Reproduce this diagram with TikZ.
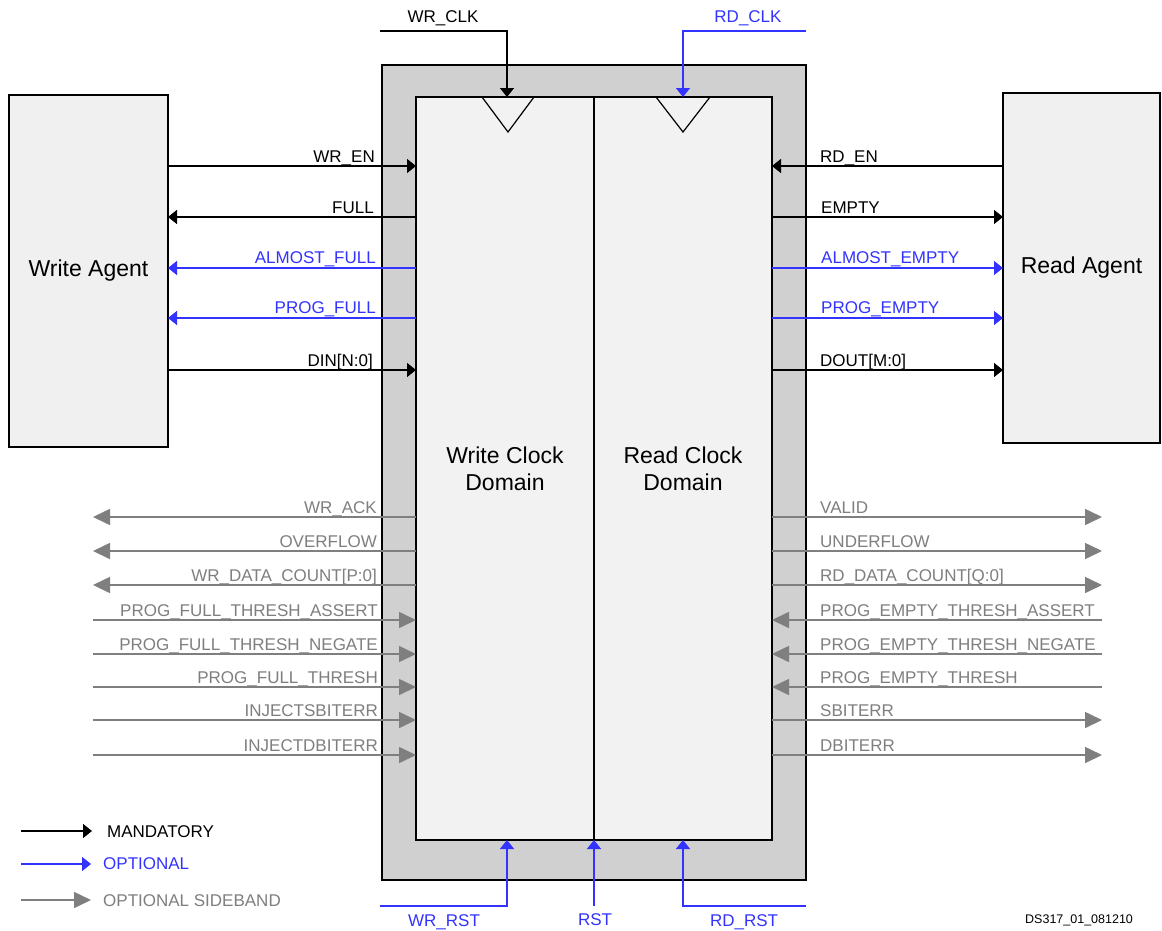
\documentclass[tikz,border=0pt]{standalone}
\usepackage{fontspec}
\setmainfont{Liberation Sans}
\usetikzlibrary{arrows.meta}
\definecolor{optblue}{HTML}{3333FF}
\definecolor{sidegray}{HTML}{7F7F7F}
\definecolor{outerfill}{HTML}{D0D0D0}
\definecolor{innerfill}{HTML}{F2F2F2}
\definecolor{agentfill}{HTML}{F0F0F0}
\begin{document}
\begin{tikzpicture}[x=1pt,y=-1pt,
 box/.style={draw=black, line width=2pt, inner sep=0pt, outer sep=0pt},
 mand/.style={draw=black, line width=1.4pt, -{Triangle[length=9pt,width=14pt]}},
 opt/.style={draw=optblue, line width=1.4pt, -{Triangle[length=9pt,width=14pt]}},
 side/.style={draw=sidegray, line width=1.6pt, -{Triangle[length=17pt,width=16pt]}},
 sig/.style={font=\fontsize{17}{20}\selectfont, inner sep=0pt},
 big/.style={font=\fontsize{23}{27}\selectfont, align=center},
 lft/.style={sig, anchor=base east},
 rgt/.style={sig, anchor=base west},
]
\useasboundingbox (0,0) rectangle (1162,930);
\fill[white] (0,0) rectangle (1162,930);

% boxes
\node[box, fill=outerfill, minimum width=424, minimum height=815, anchor=north west] (outer) at (382,65) {};
\node[box, fill=innerfill, minimum width=178, minimum height=743, anchor=north west, big] (wcd) at (416,97) {Write Clock\\Domain};
\node[box, fill=innerfill, minimum width=178, minimum height=743, anchor=north west, big] (rcd) at (594,97) {Read Clock\\Domain};
\node[box, fill=agentfill, minimum width=159, minimum height=352, anchor=north west, big] (wa) at (9,95) {Write Agent};
\node[box, fill=agentfill, minimum width=157, minimum height=350, anchor=north west, big] (ra) at (1003,93) {Read Agent};

% clock triangles
\draw[line width=1.2pt] (482,97) -- (508,132) -- (534,97);
\draw[line width=1.2pt] (656,97) -- (683,132) -- (710,97);

% clocks
\coordinate (wclk) at (380,31);
\coordinate (rclk) at (806,31);
\draw[mand] (wclk) -| (wcd.north -| 507,0);
\draw[opt] (rclk) -| (rcd.north -| 683,0);
\node[sig, anchor=base] at (443,22) {WR\_CLK};
\node[sig, anchor=base, text=optblue] at (748,22) {RD\_CLK};

% resets
\coordinate (wrst) at (380,906);
\coordinate (rst) at (594,906);
\coordinate (rrst) at (806,906);
\draw[opt] (wrst) -| (wcd.south -| 507,0);
\draw[opt] (rst) -- (wcd.south east);
\draw[opt] (rrst) -| (rcd.south -| 683,0);
\node[sig, anchor=base, text=optblue] at (444,926) {WR\_RST};
\node[sig, anchor=base, text=optblue] at (595,925) {RST};
\node[sig, anchor=base, text=optblue] at (744,926) {RD\_RST};

% write side main signals
\draw[mand] (wa.east |- 0,166) -- (wcd.west |- 0,166);
\draw[mand] (wcd.west |- 0,217) -- (wa.east |- 0,217);
\draw[opt] (wcd.west |- 0,268) -- (wa.east |- 0,268);
\draw[opt] (wcd.west |- 0,318) -- (wa.east |- 0,318);
\draw[mand] (wa.east |- 0,370) -- (wcd.west |- 0,370);
\node[lft] at (375,162) {WR\_EN};
\node[lft] at (374,213) {FULL};
\node[lft, text=optblue] at (376,263) {ALMOST\_FULL};
\node[lft, text=optblue] at (376,313) {PROG\_FULL};
\node[lft] at (373,366) {DIN[N:0]};

% read side main signals
\draw[mand] (ra.west |- 0,166) -- (rcd.east |- 0,166);
\draw[mand] (rcd.east |- 0,217) -- (ra.west |- 0,217);
\draw[opt] (rcd.east |- 0,268) -- (ra.west |- 0,268);
\draw[opt] (rcd.east |- 0,318) -- (ra.west |- 0,318);
\draw[mand] (rcd.east |- 0,370) -- (ra.west |- 0,370);
\node[rgt] at (820,162) {RD\_EN};
\node[rgt] at (821,213) {EMPTY};
\node[rgt, text=optblue] at (821,263) {ALMOST\_EMPTY};
\node[rgt, text=optblue] at (821,313) {PROG\_EMPTY};
\node[rgt] at (820,366) {DOUT[M:0]};

% sideband left
\foreach \y/\t in {517/WR\_ACK, 551/OVERFLOW, 585/WR\_DATA\_COUNT[P:0]} {
  \coordinate (L\y) at (93,\y);
  \draw[side] (wcd.west |- L\y) -- (L\y);
  \node[lft, text=sidegray] at (377,\y-4) {\t};
}
\foreach \y/\t in {620/PROG\_FULL\_THRESH\_ASSERT, 654/PROG\_FULL\_THRESH\_NEGATE, 687/PROG\_FULL\_THRESH, 720/INJECTSBITERR, 755/INJECTDBITERR} {
  \coordinate (L\y) at (93,\y);
  \draw[side] (L\y) -- (wcd.west |- L\y);
  \node[lft, text=sidegray] at (378,\y-4) {\t};
}
% sideband right
\foreach \y/\t in {517/VALID, 551/UNDERFLOW, 585/RD\_DATA\_COUNT[Q:0], 720/SBITERR, 755/DBITERR} {
  \coordinate (R\y) at (1102,\y);
  \draw[side] (rcd.east |- R\y) -- (R\y);
  \node[rgt, text=sidegray] at (820,\y-4) {\t};
}
\foreach \y/\t in {620/PROG\_EMPTY\_THRESH\_ASSERT, 654/PROG\_EMPTY\_THRESH\_NEGATE, 687/PROG\_EMPTY\_THRESH} {
  \coordinate (R\y) at (1102,\y);
  \draw[side] (R\y) -- (rcd.east |- R\y);
  \node[rgt, text=sidegray] at (820,\y-4) {\t};
}

% legend
\coordinate (m1) at (21,831); \coordinate (m2) at (92,831);
\coordinate (o1) at (21,864); \coordinate (o2) at (91,864);
\coordinate (s1) at (21,900); \coordinate (s2) at (91,900);
\draw[mand] (m1) -- (m2);
\draw[opt] (o1) -- (o2);
\draw[side] (s1) -- (s2);
\node[rgt] at (107,837) {MANDATORY};
\node[rgt, text=optblue] at (103,869) {OPTIONAL};
\node[rgt, text=sidegray] at (103,906) {OPTIONAL SIDEBAND};

\node[anchor=base west, inner sep=0pt, font=\fontsize{12.5}{15}\selectfont] at (1025,923) {DS317\_01\_081210};
\end{tikzpicture}
\end{document}
